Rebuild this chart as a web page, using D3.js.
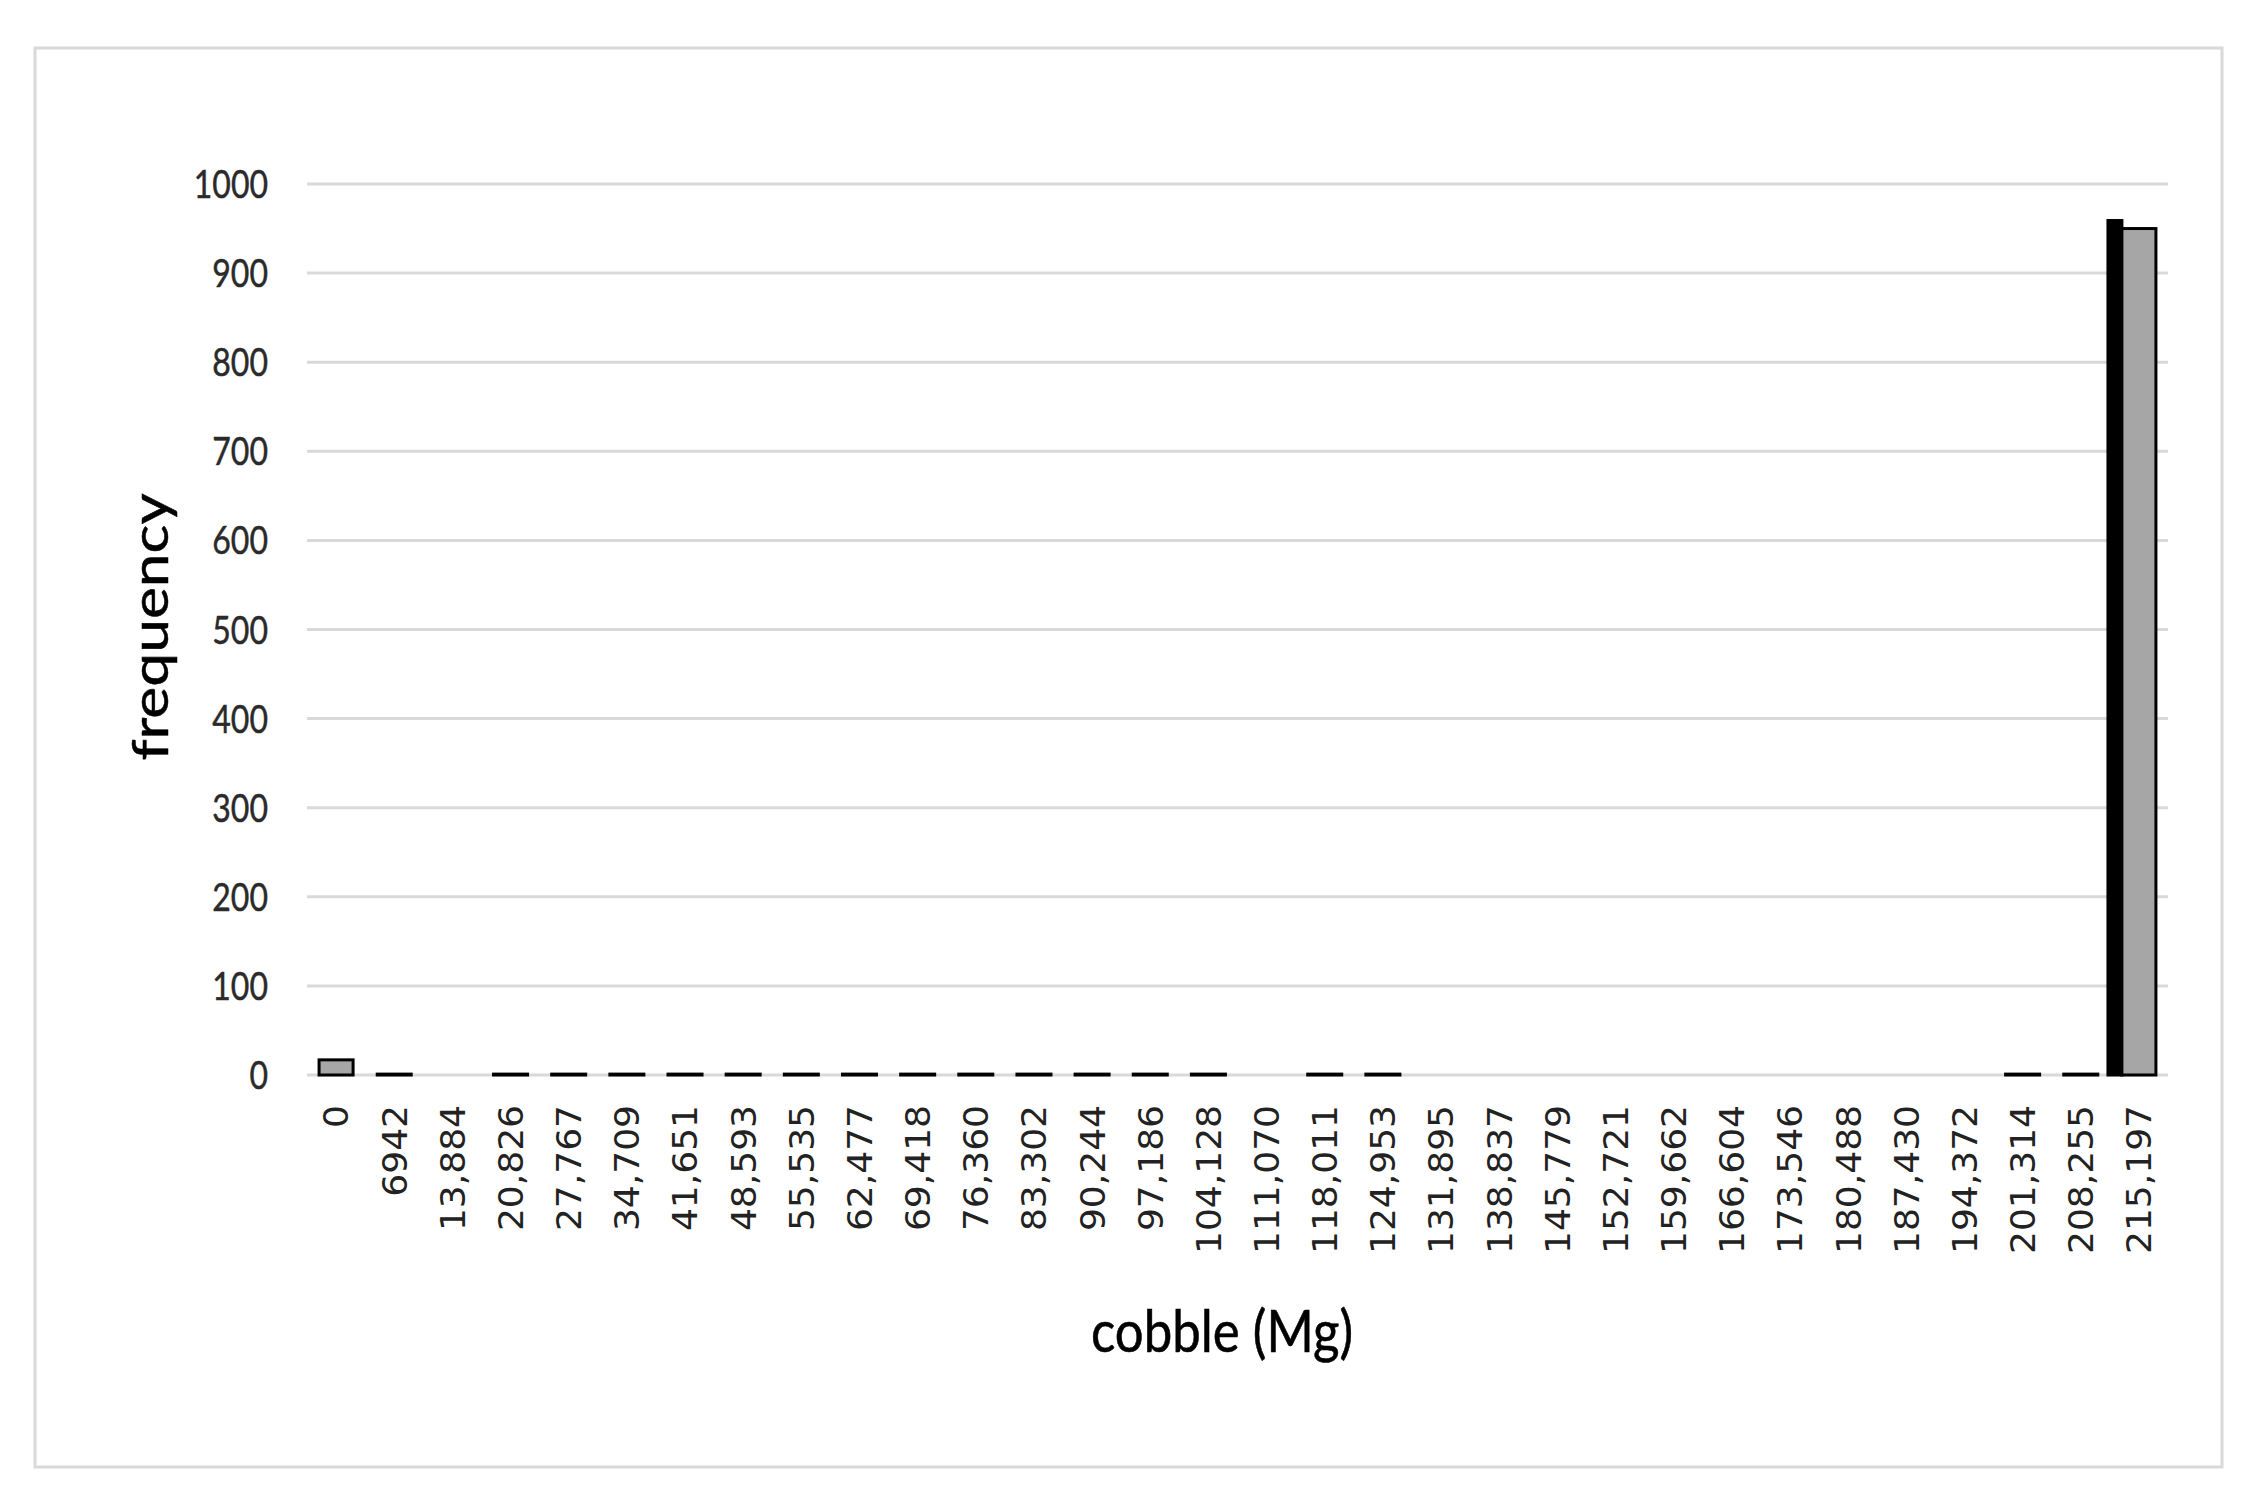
<!DOCTYPE html>
<html>
<head>
<meta charset="utf-8">
<script src="https://cdn.jsdelivr.net/npm/d3@7"></script>
<style>
  html, body { margin: 0; padding: 0; background: #ffffff; }
  svg { display: block; }
</style>
</head>
<body>
<script>
// ---- data ----
const categories = ["0","6942","13,884","20,826","27,767","34,709","41,651","48,593","55,535","62,477",
  "69,418","76,360","83,302","90,244","97,186","104,128","111,070","118,011","124,953","131,895",
  "138,837","145,779","152,721","159,662","166,604","173,546","180,488","187,430","194,372","201,314",
  "208,255","215,197"];
const seriesBlack = [0,0,0,0,0,0,0,0,0,0,0,0,0,0,0,0,0,0,0,0,0,0,0,0,0,0,0,0,0,0,0,959];
const seriesGray  = [17,1,0,1,1,1,1,1,1,1,1,1,1,1,1,1,0,1,1,0,0,0,0,0,0,0,0,0,0,1,1,950];
const yTicks = [0,100,200,300,400,500,600,700,800,900,1000];
const xTitle = "cobble (Mg)";
const yTitle = "frequency";

const W = 2267, H = 1507;
const plot = { left: 307, right: 2168, top: 184, bottom: 1075 };

const svg = d3.select("body").append("svg").attr("width", W).attr("height", H);
svg.append("rect").attr("width", W).attr("height", H).attr("fill", "#fff");

// outer frame
svg.append("rect")
  .attr("x", 35).attr("y", 48).attr("width", 2187).attr("height", 1419)
  .attr("fill", "none").attr("stroke", "#d9d9d9").attr("stroke-width", 3);

const x = d3.scaleBand().domain(categories).range([plot.left, plot.right]).padding(0);
const y = d3.scaleLinear().domain([0, 1000]).range([plot.bottom, plot.top]);

// gridlines
svg.append("g").selectAll("line").data(yTicks).join("line")
  .attr("x1", plot.left).attr("x2", plot.right)
  .attr("y1", d => y(d)).attr("y2", d => y(d))
  .attr("stroke", "#d9d9d9").attr("stroke-width", 3);

// y tick labels
svg.append("g").selectAll("text").data(yTicks).join("text")
  .attr("transform", d => `translate(268,${y(d)}) scale(1,1.22)`)
  .attr("text-anchor", "end")
  .attr("dy", "0.36em")
  .attr("font-family", "Lato, 'Open Sans', sans-serif")
  .attr("font-size", 32)
  .attr("fill", "#2a2a2a")
  .attr("stroke", "#2a2a2a").attr("stroke-width", 0.4)
  .text(d => d);

const bw = x.bandwidth();
const grayW = bw * 0.585;
const blackW = bw * 0.24;

const rows = categories.map((c, i) => ({ c, black: seriesBlack[i], gray: seriesGray[i] }));

// black series
svg.append("g").selectAll("rect").data(rows.filter(d => d.black > 0)).join("rect")
  .attr("x", d => x(d.c) + bw / 2 - grayW / 2 - blackW)
  .attr("width", blackW)
  .attr("y", d => y(d.black))
  .attr("height", d => y(0) - y(d.black))
  .attr("fill", "#000").attr("stroke", "#000").attr("stroke-width", 3);

// gray series
svg.append("g").selectAll("rect").data(rows.filter(d => d.gray > 0)).join("rect")
  .attr("x", d => x(d.c) + bw / 2 - grayW / 2)
  .attr("width", grayW)
  .attr("y", d => y(d.gray))
  .attr("height", d => y(0) - y(d.gray))
  .attr("fill", "#a6a6a6").attr("stroke", "#000").attr("stroke-width", 3);

// x tick labels (rotated)
svg.append("g").selectAll("text").data(categories).join("text")
  .attr("transform", d => `translate(${x(d) + bw / 2 + 12.4},1105) scale(1,1.06) rotate(-90)`)
  .attr("text-anchor", "end")
  .attr("font-family", "'DejaVu Sans', Verdana, sans-serif")
  .attr("font-size", 34)
  .attr("fill", "#222")
  .text(d => d);

// x title
svg.append("text")
  .attr("transform", "translate(1222,1352) scale(1,1.15)")
  .attr("text-anchor", "middle")
  .attr("font-family", "Lato, 'Open Sans', sans-serif")
  .attr("font-size", 51)
  .attr("fill", "#000")
  .attr("stroke", "#000").attr("stroke-width", 0.5)
  .text(xTitle);

// y title
svg.append("text")
  .attr("transform", "translate(168,627) scale(1,1.21) rotate(-90)")
  .attr("text-anchor", "middle")
  .attr("font-family", "Lato, 'Open Sans', sans-serif")
  .attr("font-size", 50)
  .attr("fill", "#000")
  .attr("stroke", "#000").attr("stroke-width", 0.5)
  .text(yTitle);
</script>
</body>
</html>
